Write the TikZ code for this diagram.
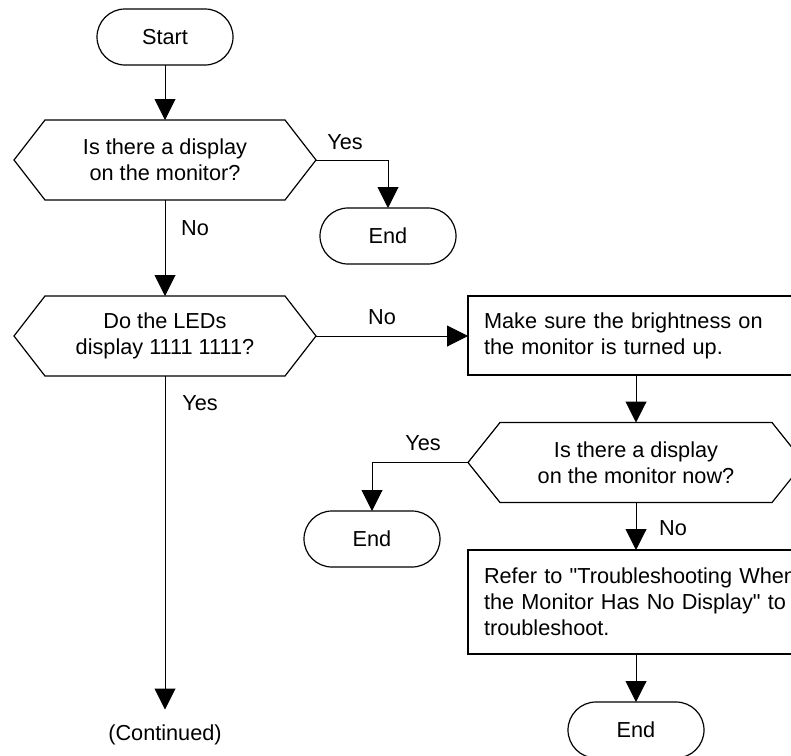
\documentclass[tikz,border=0pt]{standalone}
\usepackage{fontspec}
\setmainfont{Liberation Sans}
\usetikzlibrary{arrows.meta}

\tikzset{
  every node/.style={font=\fontsize{10.85pt}{12.9pt}\selectfont},
  terminal/.style={draw, line width=0.6pt, rounded corners=14pt, minimum width=68pt, minimum height=28pt, outer sep=0pt},
  decision/.style={minimum width=120pt, minimum height=40pt, inner sep=0pt, outer sep=0pt, align=center},
  process/.style={draw, line width=0.6pt, text width=164pt, align=left, inner xsep=8pt, inner ysep=0pt, outer sep=0pt},
  flow/.style={line width=0.5pt, -{Triangle[length=10.5pt, width=10.5pt]}},
}

\begin{document}
\begin{tikzpicture}[x=0.5pt, y=-0.5pt]
    \useasboundingbox (0,0) rectangle (791,755);
    \clip (0,0) rectangle (791,755);
    % Terminals
    \node[terminal] (start) at (165,37) {Start};
    \node[terminal] (end1) at (388,236) {End};
    \node[terminal] (end2) at (372,539) {End};
    \node[terminal] (end3) at (636,730) {End};
    % Decisions (hexagons drawn below)
    \node[decision] (q1) at (165,160) {Is there a display\\on the monitor?};
    \node[decision] (q2) at (165,336) {Do the LEDs\\display 1111 1111?};
    \node[decision, minimum width=136pt] (q3) at (636,462.5) {Is there a display\\on the monitor now?};
    \foreach \q/\d in {q1/15.5pt, q2/15.5pt, q3/16pt}{
        \draw[line width=0.6pt] (\q.north west) -- (\q.north east)
            -- ([xshift=\d]\q.east) coordinate (\q-r)
            -- (\q.south east) -- (\q.south west)
            -- ([xshift=-\d]\q.west) coordinate (\q-l) -- cycle;
    }
    % Actions
    \node[process, minimum height=39.5pt] (box1) at (648,335.5) {Make sure the brightness on\\the monitor is turned up.};
    \node[process, minimum height=52pt] (box2) at (648,602) {Refer to \textquotedbl Troubleshooting When\\the Monitor Has No Display\textquotedbl\ to\\troubleshoot.};
    \node[inner ysep=7.5pt] (cont) at (165,735) {(Continued)};
    % Connectors
    \draw[flow] (start) -- (q1);
    \draw[flow] (q1-r) -| (end1);
    \draw[flow] (q1) -- (q2);
    \draw[flow] (q2-r) -- (q2-r -| box1.west);
    \draw[flow] (q2) -- (cont);
    \draw[flow] (q3 |- box1.south) -- (q3);
    \draw[flow] (q3-l) -| (end2);
    \draw[flow] (q3) -- (q3 |- box2.north);
    \draw[flow] (end3 |- box2.south) -- (end3);
    % Labels
    \node (yes1) at (345,142) {Yes};
    \node (no1) at (195,228) {No};
    \node (no2) at (382,317) {No};
    \node (yes2) at (200,403) {Yes};
    \node (yes3) at (423,443) {Yes};
    \node (no3) at (673,528) {No};
\end{tikzpicture}
\end{document}
